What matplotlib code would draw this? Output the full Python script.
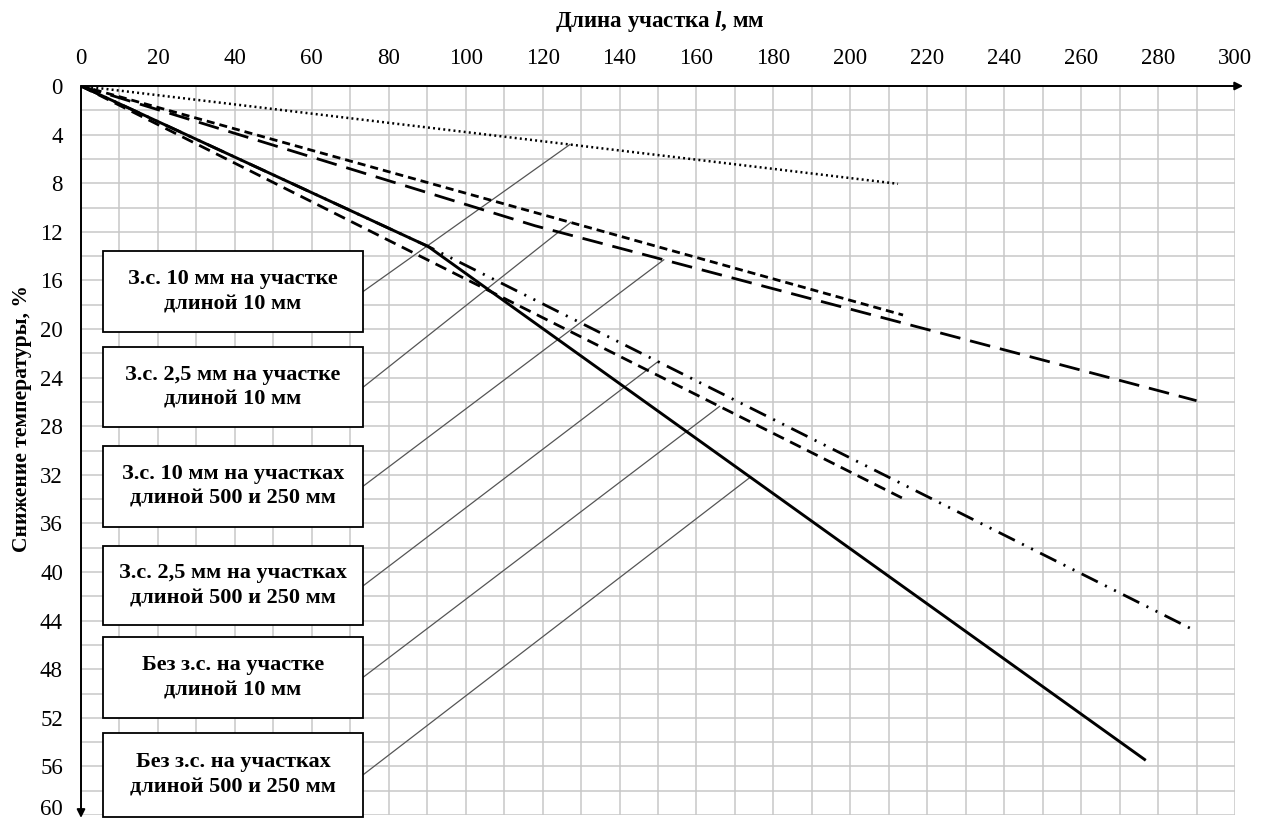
import numpy as np
import matplotlib
matplotlib.use("Agg")
import matplotlib.pyplot as plt
from matplotlib.patches import Rectangle

plt.rcParams["font.family"] = ["Liberation Serif", "DejaVu Serif"]
plt.rcParams["mathtext.fontset"] = "custom"
plt.rcParams["mathtext.rm"] = "Liberation Serif:bold"
plt.rcParams["mathtext.it"] = "Liberation Serif:italic:bold"
plt.rcParams["lines.scale_dashes"] = False

# ---- data: length of section l (mm) vs. temperature drop (%) ----
x_ticks = list(range(0, 301, 20))
y_ticks = list(range(0, 61, 4))

# З.с. 10 мм на участке длиной 10 мм
zs10_short_x = [0, 212.4]
zs10_short_y = [0, 8.05]
# З.с. 2,5 мм на участке длиной 10 мм
zs25_short_x = [0, 213.7]
zs25_short_y = [0, 18.85]
# З.с. 10 мм на участках длиной 500 и 250 мм
zs10_long_x = [0, 118, 290]
zs10_long_y = [0, 11.5, 25.9]
# З.с. 2,5 мм на участках длиной 500 и 250 мм
zs25_long_x = [0, 90.2, 288.8]
zs25_long_y = [0, 13.2, 44.7]
# Без з.с. на участке длиной 10 мм
nozs_short_x = [0, 213.4]
nozs_short_y = [0, 33.9]
# Без з.с. на участках длиной 500 и 250 мм
nozs_long_x = [0, 90.2, 276.8]
nozs_long_y = [0, 13.2, 55.5]

labels = [
    "З.с. 10 мм на участке\nдлиной 10 мм",
    "З.с. 2,5 мм на участке\nдлиной 10 мм",
    "З.с. 10 мм на участках\nдлиной 500 и 250 мм",
    "З.с. 2,5 мм на участках\nдлиной 500 и 250 мм",
    "Без з.с. на участке\nдлиной 10 мм",
    "Без з.с. на участках\nдлиной 500 и 250 мм",
]
# x position on each curve where its leader line ends
leader_x = [127.1, 127.3, 151.5, 150.0, 166.0, 174.0]

fig = plt.figure(figsize=(12.62, 8.19), dpi=100)
ax = fig.add_axes([81 / 1262, 1 - 815 / 819, (1235 - 81) / 1262, (815 - 86) / 819])
ax.set_xlim(0, 300)
ax.set_ylim(60, 0)

# grid
ax.set_xticks(x_ticks)
ax.set_xticks(np.arange(0, 301, 10), minor=True)
ax.set_yticks(y_ticks)
ax.set_yticks(np.arange(0, 61, 2), minor=True)
ax.grid(which="both", color="#c8c8c8", lw=1.1, zorder=0)
ax.xaxis.tick_top()
ax.tick_params(which="both", length=0)
ax.tick_params(axis="x", pad=12, labelsize=16.5)
ax.tick_params(axis="y", pad=13, labelsize=16.5)
for s in ax.spines.values():
    s.set_visible(False)
# keep the last y label inside the canvas
ax.get_yticklabels()[-1].set_verticalalignment("baseline")

# axes with arrows
ax.annotate("", xy=(1.007, 1), xytext=(0, 1), xycoords="axes fraction",
            arrowprops=dict(arrowstyle="-|>", color="black", lw=1.4,
                            mutation_scale=12, shrinkA=0, shrinkB=0),
            annotation_clip=False, zorder=6)
ax.annotate("", xy=(0, -0.004), xytext=(0, 1), xycoords="axes fraction",
            arrowprops=dict(arrowstyle="-|>", color="black", lw=1.4,
                            mutation_scale=12, shrinkA=0, shrinkB=0),
            annotation_clip=False, zorder=6)

# curves
series = [
    (zs10_short_x, zs10_short_y, dict(ls=(0, (1.4, 2.3)), lw=1.8)),
    (zs25_short_x, zs25_short_y, dict(ls=(0, (5.8, 3.6)), lw=2.0)),
    (zs10_long_x, zs10_long_y, dict(ls=(0, (15, 7.2)), lw=2.0)),
    (zs25_long_x, zs25_long_y, dict(ls=(0, (13, 5.8, 1.5, 5.8, 1.5, 5.8)), lw=2.0)),
    (nozs_short_x, nozs_short_y, dict(ls=(0, (8.6, 5.0)), lw=2.0)),
    (nozs_long_x, nozs_long_y, dict(ls="-", lw=2.1)),
]
for xs, ys, st in series:
    ax.plot(xs, ys, color="black", solid_capstyle="butt",
            dash_capstyle="butt", zorder=3, **st)

# label boxes and leader lines
box_x0, box_x1 = 5.7, 73.3
box_rows = [(13.6, 20.25), (21.5, 28.1), (29.6, 36.3),
            (37.9, 44.4), (45.35, 52.0), (53.25, 60.15)]
for (xs, ys, _), lab, lx, (y0, y1) in zip(series, labels, leader_x, box_rows):
    ly = np.interp(lx, xs, ys)
    yc = (y0 + y1) / 2
    ax.plot([box_x1, lx], [yc, ly], color="#555555", lw=0.9, zorder=2)
    ax.add_patch(Rectangle((box_x0, y0), box_x1 - box_x0, y1 - y0,
                           facecolor="white", edgecolor="black", lw=1.3,
                           zorder=5, clip_on=False))
    ax.text((box_x0 + box_x1) / 2, yc, lab, ha="center", va="center",
            fontsize=16, fontweight="bold", linespacing=1.35, zorder=6,
            clip_on=False)

fig.text(660 / 1262, 1 - 22 / 819, "Длина участка $l$, мм", ha="center",
         va="center", fontsize=16.5, fontweight="bold")
fig.text(22 / 1262, 1 - 419 / 819, "Снижение температуры, %", ha="center",
         va="center", rotation=90, fontsize=15.5, fontweight="bold")

fig.savefig("out.png", dpi=100)
